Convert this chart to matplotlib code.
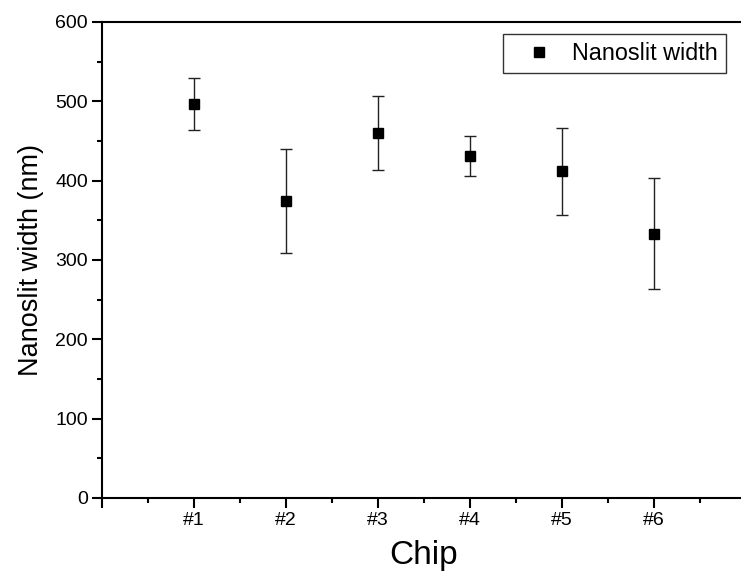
import matplotlib
matplotlib.use("Agg")
import matplotlib.pyplot as plt
from matplotlib.ticker import MultipleLocator, FixedLocator

plt.rcParams['font.family'] = ['Liberation Sans', 'DejaVu Sans']

chips = ["#1", "#2", "#3", "#4", "#5", "#6"]
width_nm = [497, 374, 460, 431, 412, 333]
err_upper = [530, 440, 507, 456, 466, 403]
err_lower = [464, 309, 413, 406, 357, 263]

x = list(range(1, len(chips) + 1))
yerr = [[w - lo for w, lo in zip(width_nm, err_lower)],
        [hi - w for w, hi in zip(width_nm, err_upper)]]

fig = plt.figure(figsize=(7.41, 5.87), dpi=100)
ax = fig.add_axes([102/741, 89/587, 644/741, 476/587])

ax.errorbar(x, width_nm, yerr=yerr, fmt='none',
            ecolor='#222222', elinewidth=1.0, capsize=4, capthick=1.0)
ax.plot(x, width_nm, 's', color='black', ms=7.7, label='Nanoslit width')

ax.set_xlim(0, 7)
ax.set_ylim(0, 600)
ax.xaxis.set_major_locator(FixedLocator(list(range(0, 8))))
ax.set_xticklabels([""] + chips + [""])
ax.xaxis.set_minor_locator(MultipleLocator(0.5))
ax.yaxis.set_major_locator(MultipleLocator(100))
ax.yaxis.set_minor_locator(MultipleLocator(50))

for s in ['left', 'bottom', 'top']:
    ax.spines[s].set_linewidth(1.5)
ax.spines['right'].set_visible(False)

ax.tick_params(axis='both', which='major', direction='out', length=7, width=1.5,
               labelsize=14, pad=3)
ax.tick_params(axis='both', which='minor', direction='out', length=3.5, width=1.5)
ax.tick_params(axis='x', which='both', top=False)
ax.tick_params(axis='y', which='both', right=False)

ax.set_ylabel('Nanoslit width (nm)', fontsize=19.5, labelpad=8)
ax.set_xlabel('Chip', fontsize=24, labelpad=8)

leg = ax.legend(loc='upper right', bbox_to_anchor=(726/741, 1 - 34/587),
                bbox_transform=fig.transFigure, borderaxespad=0,
                fancybox=False, edgecolor='black', fontsize=16.8,
                handletextpad=0.2, borderpad=0.35, handlelength=2.4)
leg.get_frame().set_linewidth(1.0)

fig.savefig('out.png', dpi=100)
